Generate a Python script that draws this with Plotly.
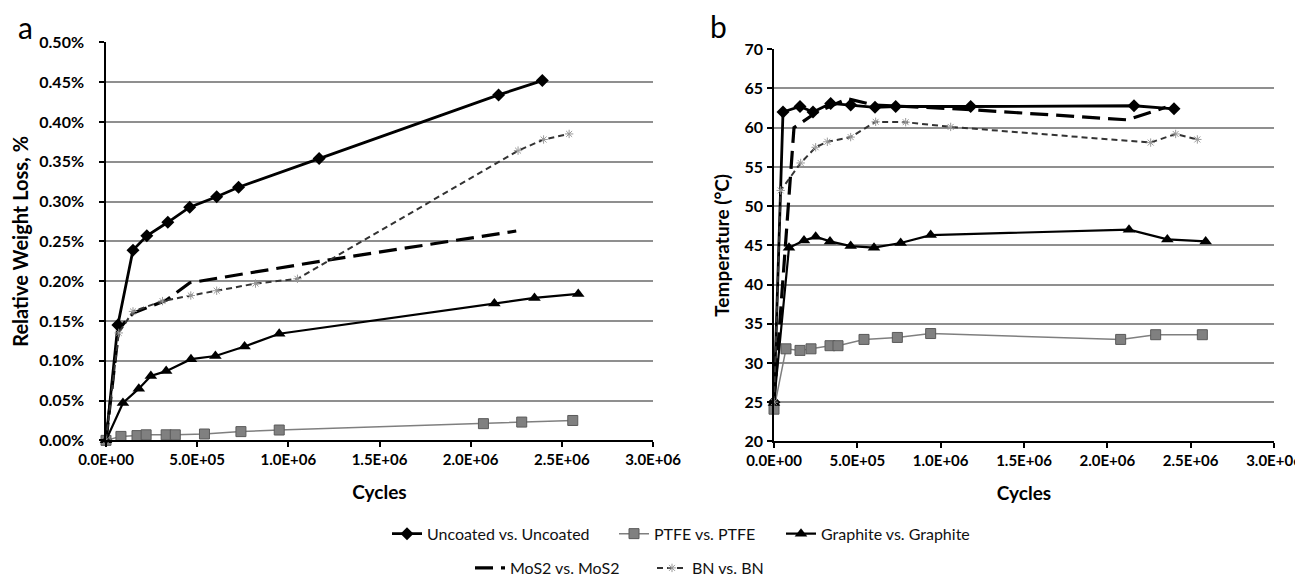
import plotly.graph_objects as go

# ---------------- data ----------------
x_tick_vals = [0, 5e5, 1e6, 1.5e6, 2e6, 2.5e6, 3e6]
x_tick_labels = ["0.0E+00", "5.0E+05", "1.0E+06", "1.5E+06", "2.0E+06", "2.5E+06", "3.0E+06"]

# Panel a: relative weight loss (%)
a_unc_x = [0, 6.5e4, 1.48e5, 2.24e5, 3.39e5, 4.59e5, 6.07e5, 7.27e5, 1.169e6, 2.153e6, 2.393e6]
a_unc_y = [0, 0.145, 0.239, 0.257, 0.274, 0.293, 0.306, 0.318, 0.354, 0.434, 0.452]

a_ptfe_x = [0, 8.2e4, 1.7e5, 2.2e5, 3.3e5, 3.8e5, 5.4e5, 7.4e5, 9.5e5, 2.07e6, 2.28e6, 2.56e6]
a_ptfe_y = [0, 0.005, 0.006, 0.007, 0.007, 0.007, 0.008, 0.011, 0.013, 0.021, 0.023, 0.025]

a_gra_x = [0, 9.3e4, 1.8e5, 2.46e5, 3.3e5, 4.66e5, 6.0e5, 7.6e5, 9.5e5, 2.13e6, 2.35e6, 2.59e6]
a_gra_y = [0, 0.047, 0.065, 0.081, 0.087, 0.102, 0.106, 0.118, 0.134, 0.172, 0.179, 0.184]

a_mos_x = [0, 7e4, 1.5e5, 2.4e5, 3.3e5, 4.6e5, 1.2e6, 2.25e6]
a_mos_y = [0, 0.140, 0.160, 0.168, 0.176, 0.198, 0.226, 0.263]

a_bn_x = [0, 7e4, 1.48e5, 3.1e5, 4.65e5, 6.07e5, 8.2e5, 1.05e6, 2.26e6, 2.40e6, 2.54e6]
a_bn_y = [0, 0.135, 0.162, 0.175, 0.182, 0.188, 0.197, 0.203, 0.364, 0.378, 0.385]

# Panel b: temperature (°C)
b_unc_x = [0, 5.4e4, 1.56e5, 2.34e5, 3.4e5, 4.6e5, 6.06e5, 7.3e5, 1.18e6, 2.16e6, 2.40e6]
b_unc_y = [25, 62.0, 62.7, 62.0, 63.1, 62.9, 62.6, 62.7, 62.7, 62.8, 62.4]

b_ptfe_x = [0, 7.2e4, 1.56e5, 2.22e5, 3.36e5, 3.84e5, 5.4e5, 7.4e5, 9.4e5, 2.08e6, 2.29e6, 2.57e6]
b_ptfe_y = [24.1, 31.8, 31.6, 31.8, 32.2, 32.2, 33.0, 33.25, 33.75, 33.0, 33.6, 33.6]

b_gra_x = [0, 9e4, 1.8e5, 2.5e5, 3.36e5, 4.6e5, 6.0e5, 7.6e5, 9.4e5, 2.13e6, 2.36e6, 2.59e6]
b_gra_y = [24.9, 44.7, 45.6, 46.1, 45.5, 44.9, 44.7, 45.3, 46.3, 47.0, 45.75, 45.5]

b_mos_x = [0, 1.2e5, 2.5e5, 4.4e5, 6.0e5, 1.18e6, 2.12e6, 2.35e6]
b_mos_y = [25, 60.0, 61.9, 63.7, 62.9, 62.3, 61.0, 62.6]

b_bn_x = [0, 4e4, 1.6e5, 2.5e5, 3.2e5, 4.6e5, 6.1e5, 7.9e5, 1.06e6, 2.26e6, 2.41e6, 2.54e6]
b_bn_y = [25, 52.0, 55.5, 57.5, 58.2, 58.8, 60.75, 60.7, 60.1, 58.1, 59.2, 58.5]

names = ["Uncoated vs. Uncoated", "PTFE vs. PTFE", "Graphite vs. Graphite", "MoS2 vs. MoS2", "BN vs. BN"]

# ---------------- styles ----------------
FONT = "Lato"
XTICK_FONT = dict(family=FONT, size=15, color="black", weight="bold")
YTICK_FONT = dict(family=FONT, size=16, color="black", weight="bold")
XTITLE_FONT = dict(family=FONT, size=19, color="black", weight="bold")
LEG_FONT = dict(family=FONT, size=16, color="#111111")

styles = [
    dict(mode="lines+markers", line=dict(color="black", width=2.8),
         marker=dict(symbol="diamond", size=10, color="black")),
    dict(mode="lines+markers", line=dict(color="#7f7f7f", width=1.5),
         marker=dict(symbol="square", size=10, color="#808080", line=dict(color="#5a5a5a", width=1))),
    dict(mode="lines+markers", line=dict(color="black", width=2.2),
         marker=dict(symbol="triangle-up", size=11, color="black")),
    dict(mode="lines", line=dict(color="black", width=3.2, dash="18px,8px")),
    dict(mode="lines+markers", line=dict(color="#333333", width=2, dash="6px,4px"),
         marker=dict(symbol="asterisk-open", size=7, color="#9a9a9a", line=dict(color="#9a9a9a", width=1))),
]
legends = ["legend", "legend2", "legend3", "legend4", "legend5"]

fig = go.Figure()
a_data = [(a_unc_x, a_unc_y), (a_ptfe_x, a_ptfe_y), (a_gra_x, a_gra_y), (a_mos_x, a_mos_y), (a_bn_x, a_bn_y)]
b_data = [(b_unc_x, b_unc_y), (b_ptfe_x, b_ptfe_y), (b_gra_x, b_gra_y), (b_mos_x, b_mos_y), (b_bn_x, b_bn_y)]

for i, (xs, ys) in enumerate(a_data):
    fig.add_trace(go.Scatter(x=xs, y=ys, name=names[i], xaxis="x", yaxis="y",
                             legend=legends[i], showlegend=True, cliponaxis=False, **styles[i]))
for i, (xs, ys) in enumerate(b_data):
    fig.add_trace(go.Scatter(x=xs, y=ys, name=names[i], xaxis="x2", yaxis="y2",
                             legend=legends[i], showlegend=False, cliponaxis=False, **styles[i]))

W, H = 1303, 577
def fx(px): return px / W
def fy(py): return 1 - py / H

xcommon = dict(range=[0, 3e6], tickvals=x_tick_vals, ticktext=x_tick_labels, showgrid=False,
               zeroline=False, showline=True, linecolor="black", linewidth=1.5, ticks="outside",
               ticklen=5, tickwidth=1.5, tickcolor="black", tickfont=XTICK_FONT, automargin=False,
               title=dict(text="Cycles", font=XTITLE_FONT, standoff=19))
ycommon = dict(showgrid=True, gridcolor="#8f8f8f", gridwidth=1.5, zeroline=False, showline=True,
               linecolor="black", linewidth=1.5, ticks="outside", ticklen=5, tickwidth=1.5,
               tickcolor="black", tickfont=YTICK_FONT, automargin=False)

# one legend box per entry, placed where each entry sits in the original
leg_pos = [(379, 535), (606, 535), (773, 535), (462, 570), (644, 570)]
leg_layout = {}
for i, (lx, ly) in enumerate(leg_pos):
    key = "legend" if i == 0 else "legend%d" % (i + 1)
    leg_layout[key] = dict(orientation="h", x=fx(lx), y=fy(ly), xanchor="left", yanchor="middle",
                           font=LEG_FONT, bgcolor="rgba(0,0,0,0)")

fig.update_layout(
    width=W, height=H, margin=dict(l=0, r=0, t=0, b=0),
    paper_bgcolor="white", plot_bgcolor="white",
    xaxis=dict(domain=[fx(98), fx(645)], anchor="y", **xcommon),
    yaxis=dict(domain=[fy(440), fy(35)], anchor="x", range=[0, 0.5], dtick=0.05,
               tickformat=".2f", ticksuffix="%", ticklabelstandoff=12,
               title=dict(text="Relative Weight Loss, %",
                          font=dict(family=FONT, size=20, color="black", weight="bold"), standoff=12),
               **ycommon),
    xaxis2=dict(domain=[fx(766), fx(1266)], anchor="y2", **xcommon),
    yaxis2=dict(domain=[fy(441), fy(42)], anchor="x2", range=[20, 70], dtick=5,
                ticklabelstandoff=1,
                title=dict(text="Temperature (°C)",
                           font=dict(family=FONT, size=19, color="black", weight="bold"), standoff=10),
                **ycommon),
    annotations=[
        dict(text="a", x=fx(17), y=fy(19), xref="paper", yref="paper", showarrow=False,
             xanchor="center", yanchor="middle", font=dict(family=FONT, size=30, color="black")),
        dict(text="b", x=fx(710), y=fy(18), xref="paper", yref="paper", showarrow=False,
             xanchor="center", yanchor="middle", font=dict(family=FONT, size=30, color="black")),
    ],
    **leg_layout,
)

fig.write_html("out.html")
